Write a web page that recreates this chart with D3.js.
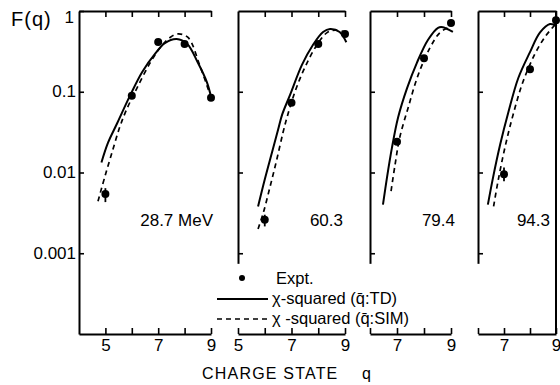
<!DOCTYPE html>
<html>
<head>
	<meta charset=utf-8>
	<title>Charge state distributions</title>
	<script src="https://d3js.org/d3.v7.min.js"></script>
	<style type="text/css">
		body{
			margin: 0;
			background: #fff;
		}
		svg text{
			font-family: "Liberation Sans", Arial, sans-serif;
			fill: #000;
		}
		.axis path, .axis line{
			stroke: #000;
		}
		.axis path{
			stroke-width: 2;
		}
		.axis line{
			stroke-width: 1.6;
		}
	</style>
</head>
<body>
	<svg id="chart" width="560" height="385"></svg>

	<script type="text/javascript">
		// tick values and labels
		const qTicks = [5, 6, 7, 8, 9];
		const qLabels = [5, 7, 9];
		const yTicks = [1, 0.1, 0.01, 0.001];
		const yLabels = ['1', '0.1', '0.01', '0.001'];
		const energies = ['28.7 MeV', '60.3', '79.4', '94.3'];

		// experimental points [q, F]
		const expt287 = [[5, 0.0054], [6, 0.089], [7, 0.414], [8, 0.39], [9, 0.084]];
		const expt603 = [[6, 0.0026], [7, 0.073], [8, 0.39], [9, 0.52]];
		const expt794 = [[7, 0.024], [8, 0.26], [9, 0.71]];
		const expt943 = [[7, 0.0095], [8, 0.19], [9, 0.77]];

		// error bars [q, low, high]
		const err287 = [[5, 0.0043, 0.0064]];
		const err603 = [[6, 0.00215, 0.0030]];
		const err794 = [];
		const err943 = [[7, 0.0078, 0.0115]];

		// chi-squared fit, q-bar from TD
		const td287 = [[4.85, 0.0133], [5.1, 0.0234], [5.45, 0.041], [5.95, 0.092], [6.4, 0.177], [6.9, 0.30], [7.25, 0.40], [7.7, 0.45], [8.1, 0.39], [8.5, 0.23], [8.85, 0.13], [9.0, 0.087]];
		const td603 = [[5.75, 0.0038], [6.0, 0.0082], [6.27, 0.0177], [6.5, 0.034], [6.65, 0.052], [6.95, 0.092], [7.39, 0.215], [7.8, 0.38], [8.18, 0.55], [8.44, 0.60], [8.8, 0.55], [9.05, 0.41]];
		const td794 = [[6.48, 0.004], [6.63, 0.0087], [6.81, 0.020], [7.04, 0.048], [7.37, 0.11], [7.74, 0.23], [8.15, 0.44], [8.52, 0.62], [8.7, 0.63], [9.07, 0.55]];
		const td943 = [[6.38, 0.004], [6.58, 0.0087], [6.85, 0.022], [7.17, 0.056], [7.55, 0.148], [8.0, 0.31], [8.38, 0.54], [8.77, 0.69], [9.03, 0.65]];

		// chi-squared fit, q-bar from SIM
		const sim287 = [[4.72, 0.0044], [4.98, 0.0089], [5.25, 0.0177], [5.55, 0.037], [5.8, 0.060], [6.2, 0.112], [6.7, 0.23], [7.07, 0.35], [7.45, 0.47], [7.75, 0.52], [8.13, 0.47], [8.58, 0.21], [9.0, 0.085]];
		const sim603 = [[5.75, 0.002], [5.95, 0.0032], [6.2, 0.0067], [6.45, 0.0145], [6.68, 0.031], [6.83, 0.048], [7.13, 0.1], [7.5, 0.2], [7.95, 0.38], [8.33, 0.54], [8.63, 0.58], [9.0, 0.55]];
		const sim794 = [[6.78, 0.0059], [6.93, 0.0126], [7.1, 0.027], [7.41, 0.063], [7.78, 0.16], [8.22, 0.35], [8.59, 0.54], [8.89, 0.62], [9.0, 0.64]];
		const sim943 = [[6.6, 0.0038], [6.77, 0.0078], [7.03, 0.020], [7.35, 0.052], [7.72, 0.13], [8.18, 0.29], [8.58, 0.48], [8.88, 0.63], [9.05, 0.73]];

		const plotTop = 11, plotBottom = 334;
		const svg = d3.select('#chart');

		const y = d3.scaleLog()
			.domain([1e-4, 1])
			.range([plotBottom, plotTop]);

		// partial y scale for the inner panels (axis stops below 0.001)
		const yShort = d3.scaleLog()
			.domain([7.5e-4, 1])
			.range([y(7.5e-4), plotTop]);

		const panels = [
			{qMin: 4, px: [79, 211], expt: expt287, err: err287, td: td287, sim: sim287, label: energies[0], dx: 2},
			{qMin: 5, px: [238, 345], expt: expt603, err: err603, td: td603, sim: sim603, label: energies[1], dx: -2},
			{qMin: 6, px: [370, 451], expt: expt794, err: err794, td: td794, sim: sim794, label: energies[2], dx: 4},
			{qMin: 6, px: [478, 556], expt: expt943, err: err943, td: td943, sim: sim943, label: energies[3], dx: -6}
		];

		panels.forEach(function(p, i){
			const x = d3.scaleLinear()
				.domain([p.qMin, 9])
				.range(p.px);
			const g = svg.append('g');

			// bottom axis, ticks pointing up
			g.append('g')
				.attr('class', 'axis')
				.attr('transform', `translate(0, ${plotBottom})`)
				.call(d3.axisBottom(x)
					.tickValues(qTicks.filter(q => q >= p.qMin))
					.tickSizeInner(-6)
					.tickSizeOuter(0)
					.tickPadding(4)
					.tickFormat(q => (qLabels.includes(q) && !(i > 1 && q == 5)) ? q : ''))
				.call(a => a.selectAll('text')
					.attr('dy', '0.75em')
					.style('font-size', '17px'));

			// top border, ticks pointing down
			g.append('g')
				.attr('class', 'axis')
				.attr('transform', `translate(0, ${plotTop})`)
				.call(d3.axisTop(x)
					.tickValues(qTicks.filter(q => q > p.qMin))
					.tickSizeInner(-6)
					.tickSizeOuter(0)
					.tickFormat(''));

			// left axis
			g.append('g')
				.attr('class', 'axis')
				.attr('transform', `translate(${p.px[0]}, 0)`)
				.call(d3.axisLeft(i == 0 ? y : yShort)
					.tickValues(i == 0 ? yTicks : yTicks.slice(1))
					.tickSizeInner(-5)
					.tickSizeOuter(0)
					.tickPadding(3)
					.tickFormat(i == 0 ? (d, k) => yLabels[k] : ''))
				.call(a => a.selectAll('text')
					.style('font-size', '17px')
					.attr('dy', d => d == 1 ? '0.65em' : '0.28em')
					.attr('x', d => d == 1 ? -5 : -3));

			// closing right border on the last panel
			if(i == panels.length - 1){
				g.append('line')
					.attr('x1', x(9)).attr('x2', x(9))
					.attr('y1', plotTop).attr('y2', plotBottom)
					.attr('stroke', '#000')
					.attr('stroke-width', 2);
			}

			const line = d3.line()
				.x(d => x(d[0]))
				.y(d => y(d[1]))
				.curve(d3.curveCatmullRom.alpha(0.5));

			g.append('path')
				.attr('d', line(p.td))
				.attr('fill', 'none')
				.attr('stroke', '#000')
				.attr('stroke-width', 2);

			g.append('path')
				.attr('d', line(p.sim))
				.attr('fill', 'none')
				.attr('stroke', '#000')
				.attr('stroke-width', 1.7)
				.attr('stroke-dasharray', '5,4');

			g.selectAll('line.err')
				.data(p.err)
				.enter()
				.append('line')
				.attr('class', 'err')
				.attr('x1', d => x(d[0])).attr('x2', d => x(d[0]))
				.attr('y1', d => y(d[1])).attr('y2', d => y(d[2]))
				.attr('stroke', '#000')
				.attr('stroke-width', 1.8);

			g.selectAll('circle')
				.data(p.expt)
				.enter()
				.append('circle')
				.attr('cx', d => x(d[0]))
				.attr('cy', d => y(d[1]))
				.attr('r', 4)
				.attr('fill', '#000');

			g.append('text')
				.attr('x', x(9) + p.dx)
				.attr('y', 226)
				.attr('text-anchor', 'end')
				.style('font-size', '17px')
				.text(p.label);
		});

		// y axis title
		svg.append('text')
			.attr('x', 11)
			.attr('y', 26)
			.style('font-size', '20px')
			.style('letter-spacing', '1px')
			.text('F(q)');

		// x axis title
		svg.append('text')
			.attr('x', 202)
			.attr('y', 379)
			.style('font-size', '16px')
			.style('letter-spacing', '1.2px')
			.text('CHARGE  STATE');
		svg.append('text')
			.attr('x', 362)
			.attr('y', 379)
			.style('font-size', '16px')
			.text('q');

		// legend
		const legend = svg.append('g')
			.attr('transform', 'translate(217, 0)');

		legend.append('circle')
			.attr('cx', 25).attr('cy', 278)
			.attr('r', 3)
			.attr('fill', '#000');
		legend.append('text')
			.attr('x', 59).attr('y', 284)
			.style('font-size', '16.5px')
			.text('Expt.');

		legend.append('line')
			.attr('x1', 0).attr('x2', 51)
			.attr('y1', 299).attr('y2', 299)
			.attr('stroke', '#000')
			.attr('stroke-width', 2);
		legend.append('text')
			.attr('x', 55).attr('y', 304)
			.style('font-size', '16.5px')
			.text('\u03C7-squared (q\u0304:TD)');

		legend.append('line')
			.attr('x1', 0).attr('x2', 53)
			.attr('y1', 319).attr('y2', 319)
			.attr('stroke', '#000')
			.attr('stroke-width', 1.6)
			.attr('stroke-dasharray', '5,4');
		legend.append('text')
			.attr('x', 55).attr('y', 324)
			.style('font-size', '16.5px')
			.text('\u03C7 -squared (q\u0304:SIM)');
	</script>
</body>
</html>
